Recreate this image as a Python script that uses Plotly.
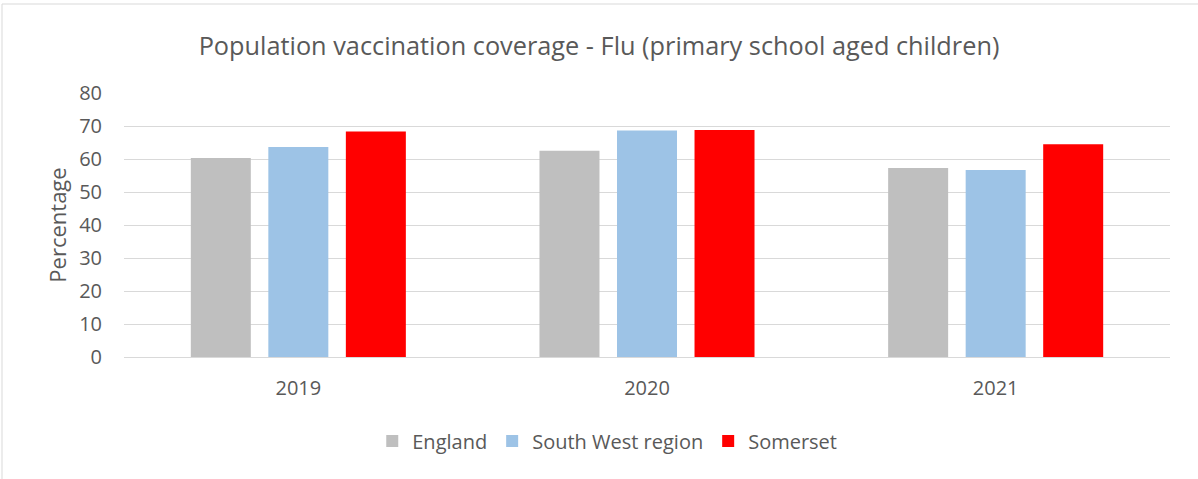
import plotly.graph_objects as go

years = ["2019", "2020", "2021"]
england = [60.3, 62.5, 57.3]
south_west = [63.6, 68.6, 56.7]
somerset = [68.3, 68.8, 64.5]
y_ticks = [0, 10, 20, 30, 40, 50, 60, 70, 80]

series = [
    ("England", england, "#BFBFBF"),
    ("South West region", south_west, "#9DC3E6"),
    ("Somerset", somerset, "#FF0000"),
]

font_family = "Open Sans, Liberation Sans, sans-serif"
text_col = "#595959"

fig = go.Figure()
for name, vals, col in series:
    fig.add_trace(go.Bar(x=years, y=vals, name=name, marker=dict(color=col, line=dict(width=0))))

fig.update_layout(
    width=1198, height=479,
    margin=dict(l=124, r=28, t=93, b=122),
    paper_bgcolor="white", plot_bgcolor="white",
    barmode="group", bargap=0.333, bargroupgap=0.226,
    title=dict(text="Population vaccination coverage - Flu (primary school aged children)",
               x=0.5, xanchor="center", y=0.904, yanchor="middle",
               font=dict(family=font_family, size=25.3, color=text_col)),
    font=dict(family=font_family, color=text_col, size=20),
    legend=dict(orientation="h", x=0.462, xanchor="center", y=-0.318, yanchor="middle",
                font=dict(size=20, color=text_col), itemwidth=30, traceorder="normal"),
    xaxis=dict(showgrid=False, showline=True, linecolor="#D9D9D9", linewidth=1,
               ticks="", ticklabelstandoff=13, tickfont=dict(size=20, color=text_col)),
    yaxis=dict(range=[0, 80], tickvals=y_ticks, showgrid=True, gridcolor="#D9D9D9", gridwidth=1,
               zeroline=False, showline=False, ticklabelstandoff=21,
               tickfont=dict(size=20, color=text_col),
               title=dict(text="Percentage", font=dict(size=22, color=text_col), standoff=6)),
)

fig.add_shape(type="rect", xref="paper", yref="paper",
              x0=(-124 + 2) / 1046, x1=1.5, y0=-2, y1=1 + (93 - 4) / 264,
              line=dict(color="#D9D9D9", width=1), fillcolor="rgba(0,0,0,0)", layer="below")

fig.write_html("out.html", config={"displayModeBar": False},
               post_script="document.body.style.margin='0';")
